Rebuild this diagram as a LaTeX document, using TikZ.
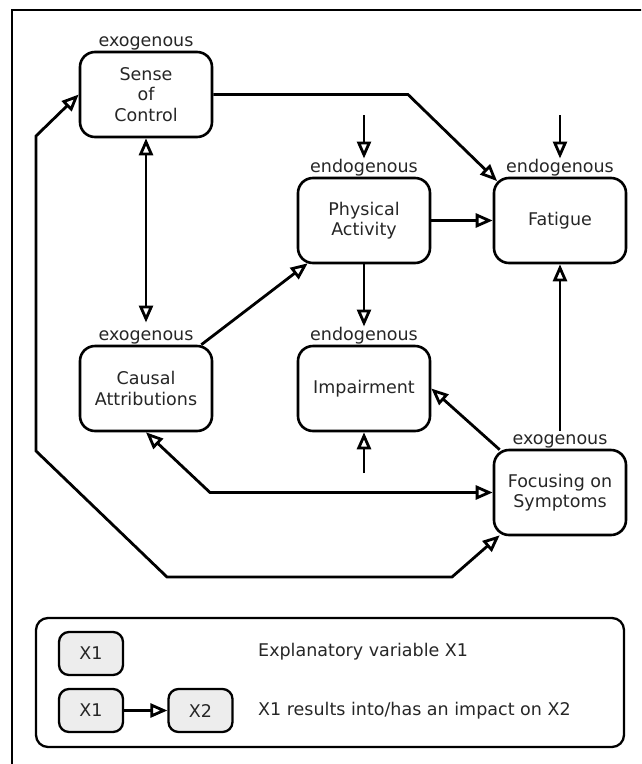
\documentclass[tikz,border=0pt]{standalone}
\usepackage{fontspec}
\setmainfont{DejaVu Sans}
\usetikzlibrary{arrows.meta,calc}
\begin{document}
\begin{tikzpicture}[x=1pt,y=-1pt,
  >={Triangle[open,length=17pt,width=14pt]},
  fnt/.style={font=\fontsize{17.5}{20.5}\selectfont, text=black!85},
  var/.style={fnt, draw, line width=2.6pt, rounded corners=15pt, minimum width=132pt, minimum height=85pt, align=center, fill=white, inner sep=2pt},
  lab/.style={fnt, anchor=base, inner sep=0pt, text height=14pt},
  con/.style={line width=2.8pt, ->},
  dcon/.style={line width=2.8pt, <->},
  lvar/.style={fnt, draw, line width=2.3pt, rounded corners=10pt, minimum width=64pt, minimum height=43pt, fill=black!7},
  ltxt/.style={fnt, anchor=west, inner sep=0pt}]
\useasboundingbox (0,0) rectangle (641,764);
\clip (0,0) rectangle (641,764);
\draw[line width=2.8pt] (12,780) -- (12,10) -- (660,10);

% variables
\node[var] (SoC) at (146,94.5) {Sense\\of\\Control};
\node[var] (PA)  at (364,220.5) {Physical\\Activity};
\node[var] (Fat) at (560,220.5) {Fatigue};
\node[var] (CA)  at (146,388.5) {Causal\\Attributions};
\node[var] (Imp) at (364,388.5) {Impairment};
\node[var] (Foc) at (560,492.5) {Focusing on\\Symptoms};

% labels
\node[lab] (SoCl) at ($(SoC.north)+(0,-4)$) {exogenous};
\node[lab] (PAl)  at ($(PA.north)+(0,-4)$) {endogenous};
\node[lab] (Fatl) at ($(Fat.north)+(0,-4)$) {endogenous};
\node[lab] (CAl)  at ($(CA.north)+(0,-4)$) {exogenous};
\node[lab] (Impl) at ($(Imp.north)+(0,-4)$) {endogenous};
\node[lab] (Focl) at ($(Foc.north)+(0,-4)$) {exogenous};

% free ends and bends
\coordinate (inPA) at (364,115);
\coordinate (inFat) at (560,115);
\coordinate (inImp) at (364,473);
\coordinate (bSF) at (408,94.5);
\coordinate (bCF) at (210,492.5);
\coordinate (l1) at (36,136);
\coordinate (l2) at (36,451);
\coordinate (l3) at (167,577);
\coordinate (l4) at (452,577);

% connectors
\draw[con] (SoC.east) -- (bSF) -- ($(Fat.north west)+(4.4,4.4)$);
\draw[con] (inPA) -- (PAl.north);
\draw[con] (inFat) -- (Fatl.north);
\draw[con] (PA.east) -- (Fat.west);
\draw[con] (PA.south) -- (Impl.north);
\draw[dcon] (SoC.south) -- ($(CAl.north)+(0,-4)$);
\draw[con] ($(CA.north east)+(-12,0)$) -- ($(PA.south west)+(11,-1)$);
\draw[con] (inImp) -- (Imp.south);
\draw[con] ($(Foc.north west)+(7,1)$) -- (Imp.east);
\draw[con] (Focl.north) -- (Fat.south);
\draw[dcon] (CA.south) -- (bCF) -- (Foc.west);
\draw[dcon] (SoC.west) -- (l1) -- (l2) -- (l3) -- (l4) -- ($(Foc.south west)+(7,-1)$);

% legend
\node[draw, line width=2.3pt, rounded corners=12pt, minimum width=588pt, minimum height=129pt] (leg) at (330,682.5) {};
\node[lvar] (k1) at (91,653.5) {X1};
\node[lvar] (k2) at (91,710.5) {X1};
\node[lvar] (k3) at (200.5,710.5) {X2};
\draw[con] (k2) -- (k3);
\node[ltxt] (t1) at (258,652) {Explanatory variable X1};
\node[ltxt] (t2) at (258,711) {X1 results into/has an impact on X2};
\end{tikzpicture}
\end{document}
